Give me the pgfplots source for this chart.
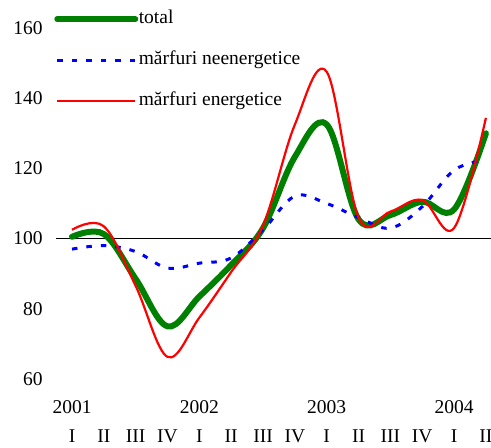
\documentclass[border=0pt]{standalone}
\usepackage{fontspec}
\setmainfont{Liberation Serif}
\newfontfamily\tnr{Liberation Serif}
\usepackage{pgfplots}
\pgfplotsset{compat=1.18}
\definecolor{cgreen}{RGB}{0,128,0}
\definecolor{cblue}{RGB}{0,0,255}
\definecolor{cred}{RGB}{255,0,0}
\newcommand{\ff}{\tnr\fontsize{19.5pt}{23pt}\selectfont}
\begin{document}
\begin{tikzpicture}[x=1pt,y=1pt]
\path[use as bounding box] (0,0) rectangle (491,448);
\begin{axis}[
  at={(56.1pt,69pt)}, anchor=south west,
  scale only axis, width=434.9pt, height=351pt,
  xmin=-0.5, xmax=13.16, ymin=60, ymax=160,
  axis line style={draw=none},
  major tick length=0pt,
  ytick={60,80,...,160},
  xtick={0,...,13},
  xticklabels={{2001\\[6pt]I},{\phantom{2001}\\[6pt]II},{\phantom{2001}\\[6pt]III},{\phantom{2001}\\[6pt]IV},
               {2002\\[6pt]I},{\phantom{2001}\\[6pt]II},{\phantom{2001}\\[6pt]III},{\phantom{2001}\\[6pt]IV},
               {2003\\[6pt]I},{\phantom{2001}\\[6pt]II},{\phantom{2001}\\[6pt]III},{\phantom{2001}\\[6pt]IV},
               {2004\\[6pt]I},{\phantom{2001}\\[6pt]II}},
  xticklabel style={align=center, font=\ff, yshift=-20pt, inner sep=1pt},
  yticklabel style={font=\ff, xshift=-10pt},
  /pgf/number format/assume math mode=true,
  clip=false,
  legend style={at={(axis description cs:0,1)}, anchor=north west, xshift=-2pt, yshift=19pt,
    draw=none, fill=none, inner sep=0pt, row sep=21pt,
    font=\ff,
    nodes={inner sep=0.5pt, text height=14pt, text depth=5pt}},
  legend cell align=left,
  legend image code/.code={\draw[#1] (0pt,0pt) -- (78pt,0pt);},
]
\addplot[black, line width=0.9pt, forget plot] coordinates {(-0.5,100) (13.16,100)};
\addplot[cgreen, line width=6pt, smooth, tension=0.6, line cap=round] coordinates {
(0,100.5) (1,101.3) (2,88.5) (3,75) (4,83.5) (5,92.5) (6,103) (7,123.3) (8,132.5) (9,105.5) (10,106.7) (11,110.5) (12,108.3) (13,130)};
\addlegendentry{total}
\addplot[cblue, line width=3pt, dash pattern=on 5.5pt off 9pt, smooth, tension=0.6] coordinates {
(0,97) (1,98) (2,96.3) (3,91.6) (4,93) (5,94.5) (6,102.5) (7,112.1) (8,110) (9,106) (10,103) (11,109.1) (12,119.5) (13,122.4)};
\addlegendentry{mărfuri neenergetice}
\addplot[cred, line width=2.2pt, smooth, tension=0.6] coordinates {
(0,102.5) (1,103.5) (2,86.5) (3,66.3) (4,77.5) (5,90.5) (6,103.8) (7,132.5) (8,147.5) (9,106) (10,107.7) (11,111) (12,103) (13,134.4)};
\addlegendentry{mărfuri energetice}
\end{axis}
\end{tikzpicture}
\end{document}
